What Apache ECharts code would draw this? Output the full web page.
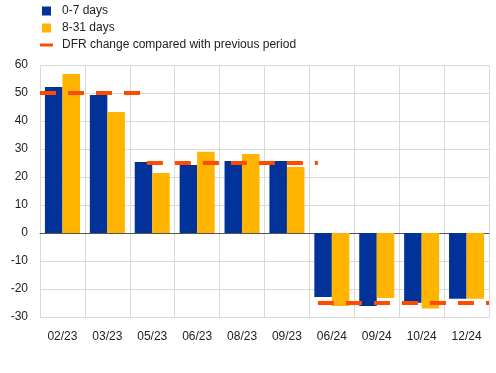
<!DOCTYPE html>
<html><head><meta charset="utf-8">
<script src="https://cdn.jsdelivr.net/npm/echarts@6/dist/echarts.min.js"></script>
<style>html,body{margin:0;padding:0;background:#fff}#c{width:496px;height:373px}</style>
</head><body><div id="c"></div>
<script>
const categories = ['02/23','03/23','05/23','06/23','08/23','09/23','06/24','09/24','10/24','12/24'];
const days0to7 = [52.1, 49.3, 25.4, 24.3, 25.7, 25.7, -22.9, -26.1, -24.9, -23.5];
const days8to31 = [56.8, 43.2, 21.4, 29.0, 28.2, 23.6, -26.1, -23.2, -27.0, -23.5];
// DFR change: [position along category axis (0..10), value]; '-' breaks the line
const dfrPoints = [[0, 50], [2.23, 50], [2.3, '-'], [2.38, 25], [6.19, 25], [6.19, '-'], [6.19, -25], [10, -25]];
const yTicks = {min: -30, max: 60, interval: 10};

const font = 'Liberation Sans, Arial, sans-serif';
const chart = echarts.init(document.getElementById('c'), null, {renderer: 'canvas'});
chart.setOption({
  animation: false,
  textStyle: {fontFamily: font},
  legend: {
    orient: 'vertical', left: 40, top: 4, padding: 0, itemWidth: 13, itemHeight: 9, itemGap: 3,
    textStyle: {fontFamily: font, fontSize: 12, color: '#222', padding: [0, 0, 0, 4], lineHeight: 14},
    data: [
      {name: '0-7 days', icon: 'path://M0,0H9V9H0Z'},
      {name: '8-31 days', icon: 'path://M0,0H9V9H0Z'},
      {name: 'DFR change compared with previous period', icon: 'path://M0,0H13V3H0Z'}
    ]
  },
  grid: {left: 40, right: 7, top: 65, bottom: 56, containLabel: false},
  xAxis: [{
    type: 'category', data: categories, boundaryGap: true,
    axisLine: {onZero: false, lineStyle: {color: '#d9d9d9'}},
    axisTick: {show: false},
    axisLabel: {fontFamily: font, fontSize: 12, color: '#222', margin: 14, interval: 0},
    splitLine: {show: true, lineStyle: {color: '#d9d9d9', width: 1}}
  }, {
    type: 'value', min: 0, max: 10, show: true, position: 'bottom',
    axisLine: {show: true, onZero: true, lineStyle: {color: '#555', width: 1}},
    axisTick: {show: false}, axisLabel: {show: false}, splitLine: {show: false}
  }],
  yAxis: {
    type: 'value', min: yTicks.min, max: yTicks.max, interval: yTicks.interval,
    axisLine: {show: false}, axisTick: {show: false},
    axisLabel: {fontFamily: font, fontSize: 12, color: '#222', margin: 12},
    splitLine: {lineStyle: {color: '#d9d9d9', width: 1}}
  },
  series: [
    {name: '0-7 days', type: 'bar', data: days0to7, barGap: '0%', barCategoryGap: '22%',
     itemStyle: {color: '#003299'}},
    {name: '8-31 days', type: 'bar', data: days8to31, barGap: '0%', barCategoryGap: '22%',
     itemStyle: {color: '#FFB400'}},
    {name: 'DFR change compared with previous period', type: 'line', xAxisIndex: 1,
     data: dfrPoints, symbol: 'none', connectNulls: false, z: 5,
     itemStyle: {color: '#FF4B00'},
     lineStyle: {color: '#FF4B00', width: 4, type: [16, 12], cap: 'butt'}}
  ]
});
</script></body></html>
